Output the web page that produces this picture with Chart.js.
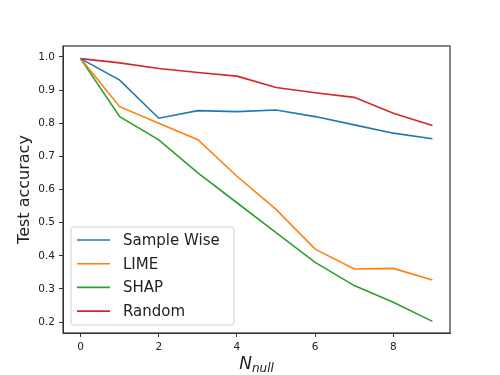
<!DOCTYPE html>
<html><head><meta charset="utf-8">
<script src="https://cdn.jsdelivr.net/npm/chart.js@4/dist/chart.umd.min.js"></script>
<style>html,body{margin:0;padding:0;background:#fff}#wrap{width:500px;height:375px}</style>
</head><body><div id="wrap"><canvas id="c" width="500" height="375"></canvas></div>
<script>
const nNull = [0,1,2,3,4,5,6,7,8,9];
const sampleWise = [0.995,0.930,0.815,0.838,0.835,0.840,0.820,0.795,0.770,0.753];
const lime = [0.995,0.850,0.800,0.750,0.640,0.540,0.420,0.360,0.362,0.327];
const shap = [0.995,0.820,0.750,0.650,0.560,0.470,0.380,0.310,0.260,0.202];
const randomSel = [0.995,0.982,0.965,0.953,0.942,0.908,0.892,0.878,0.830,0.793];
const xTicks = [0,2,4,6,8];
const yTicks = [0.2,0.3,0.4,0.5,0.6,0.7,0.8,0.9,1.0];
const seriesNames = ['Sample Wise','LIME','SHAP','Random'];
const colors = ['#1f77b4','#ff7f0e','#2ca02c','#d62728'];
const seriesData = [sampleWise, lime, shap, randomSel];

const datasets = seriesData.map((arr,i)=>({
  label: seriesNames[i],
  data: arr.map((v,j)=>({x:nNull[j], y:v})),
  borderColor: colors[i], backgroundColor: colors[i],
  borderWidth: 1.6, pointRadius: 0, tension: 0, fill:false
}));

const boxPlugin = {
  id:'box',
  afterDraw(chart){
    const {ctx, chartArea:a} = chart;
    ctx.save();
    ctx.strokeStyle='#333'; ctx.lineWidth=1.2;
    ctx.strokeRect(a.left, a.top, a.right-a.left, a.bottom-a.top);
    // x axis title N_null
    ctx.fillStyle='#222'; ctx.textBaseline='alphabetic';
    ctx.font='italic 17px "DejaVu Sans"';
    const wN = ctx.measureText('N').width;
    ctx.font='italic 12px "DejaVu Sans"';
    const wS = ctx.measureText('null').width;
    const cx = (a.left+a.right)/2, base=369;
    let x0 = cx - (wN+wS)/2;
    ctx.font='italic 17px "DejaVu Sans"';
    ctx.fillText('N', x0, base);
    ctx.font='italic 12px "DejaVu Sans"';
    ctx.fillText('null', x0+wN, base+3);
    // legend
    const lx=71, ly=227, lw=163, lh=98;
    ctx.fillStyle='rgba(255,255,255,0.8)';
    ctx.strokeStyle='#d0d0d0'; ctx.lineWidth=1;
    const r=3;
    ctx.beginPath();
    ctx.moveTo(lx+r,ly); ctx.lineTo(lx+lw-r,ly); ctx.quadraticCurveTo(lx+lw,ly,lx+lw,ly+r);
    ctx.lineTo(lx+lw,ly+lh-r); ctx.quadraticCurveTo(lx+lw,ly+lh,lx+lw-r,ly+lh);
    ctx.lineTo(lx+r,ly+lh); ctx.quadraticCurveTo(lx,ly+lh,lx,ly+lh-r);
    ctx.lineTo(lx,ly+r); ctx.quadraticCurveTo(lx,ly,lx+r,ly); ctx.closePath();
    ctx.fill(); ctx.stroke();
    ctx.font='15px "DejaVu Sans"'; ctx.textBaseline='middle';
    chart.data.datasets.forEach((ds,i)=>{
      const y = ly+13+i*23.7;
      ctx.strokeStyle=ds.borderColor; ctx.lineWidth=1.6;
      ctx.beginPath(); ctx.moveTo(77,y); ctx.lineTo(110,y); ctx.stroke();
      ctx.fillStyle='#222'; ctx.fillText(ds.label, 123, y+1);
    });
    ctx.restore();
  }
};

new Chart(document.getElementById('c'), {
  type:'line',
  data:{datasets},
  options:{
    responsive:false, animation:false,
    layout:{padding:{left:0,right:50,top:46,bottom:0}},
    plugins:{legend:{display:false}, tooltip:{enabled:false}},
    scales:{
      x:{type:'linear', min:-0.45, max:9.45,
        afterBuildTicks(s){ s.ticks = xTicks.map(v=>({value:v})); },
        afterFit(s){ s.height=42; },
        grid:{drawOnChartArea:false, drawTicks:true, tickLength:4, color:'#333'},
        border:{display:true,color:'#333'},
        ticks:{color:'#222', font:{family:'DejaVu Sans', size:10.5}, padding:4, maxRotation:0}
      },
      y:{type:'linear', min:0.167, max:1.033,
        afterBuildTicks(s){ s.ticks = yTicks.map(v=>({value:v})); },
        afterFit(s){ s.width=63; },
        grid:{drawOnChartArea:false, drawTicks:true, tickLength:4, color:'#333'},
        border:{display:true,color:'#333'},
        ticks:{color:'#222', font:{family:'DejaVu Sans', size:10.5}, padding:4,
          callback:(v)=>Number(v).toFixed(1)},
        title:{display:true, text:'Test accuracy', color:'#222', font:{family:'DejaVu Sans', size:16}, padding:{top:15,bottom:6}}
      }
    }
  },
  plugins:[boxPlugin]
});
</script></body></html>
